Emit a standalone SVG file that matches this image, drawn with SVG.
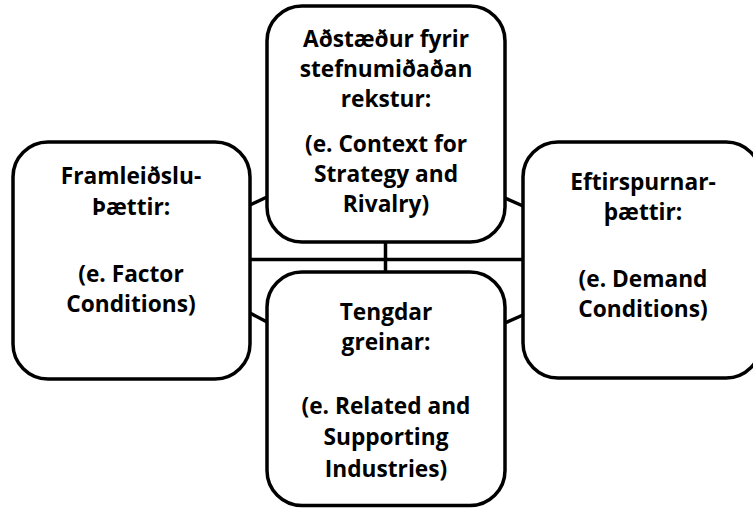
<svg xmlns="http://www.w3.org/2000/svg" width="753" height="508" viewBox="0 0 753 508">
<style>
.box{fill:#ffffff;stroke:#000000;stroke-width:3.5}
.conn{fill:none;stroke:#000000;stroke-width:3.5}
.t{font-family:"Open Sans","Liberation Sans",sans-serif;font-weight:700;font-size:22.7px;fill:#000000;text-anchor:middle}
</style>
<rect width="753" height="508" fill="#ffffff"/>
<g id="connectors" class="conn">
<line x1="250" y1="259.5" x2="523" y2="259.5"/>
<line x1="385.5" y1="242" x2="385.5" y2="272"/>
<line x1="250" y1="205" x2="267" y2="197"/>
<line x1="250" y1="313" x2="267" y2="322"/>
<line x1="505" y1="198" x2="523" y2="206"/>
<line x1="505" y1="323" x2="523" y2="315"/>
</g>
<g id="node-top">
<rect class="box" x="267" y="6" width="238" height="236" rx="35" ry="35"/>
<text class="t" x="386" y="47">Aðstæður fyrir</text>
<text class="t" x="386" y="77">stefnumiðaðan</text>
<text class="t" x="386" y="107">rekstur:</text>
<text class="t" x="386" y="152">(e. Context for</text>
<text class="t" x="386" y="182">Strategy and</text>
<text class="t" x="386" y="212">Rivalry)</text>
</g>
<g id="node-left">
<rect class="box" x="13" y="142" width="237" height="237" rx="35" ry="35"/>
<text class="t" x="131" y="184">Framleiðslu-</text>
<text class="t" x="131" y="215">Þættir:</text>
<text class="t" x="131" y="282">(e. Factor</text>
<text class="t" x="131" y="312">Conditions)</text>
</g>
<g id="node-right">
<rect class="box" x="523" y="142" width="238" height="236" rx="35" ry="35"/>
<text class="t" x="643" y="190">Eftirspurnar-</text>
<text class="t" x="643" y="220">þættir:</text>
<text class="t" x="643" y="287">(e. Demand</text>
<text class="t" x="643" y="317">Conditions)</text>
</g>
<g id="node-bottom">
<rect class="box" x="267" y="272" width="238" height="233.5" rx="35" ry="35"/>
<text class="t" x="386" y="320">Tengdar</text>
<text class="t" x="386" y="350">greinar:</text>
<text class="t" x="386" y="414">(e. Related and</text>
<text class="t" x="386" y="445">Supporting</text>
<text class="t" x="386" y="477">Industries)</text>
</g>
</svg>
